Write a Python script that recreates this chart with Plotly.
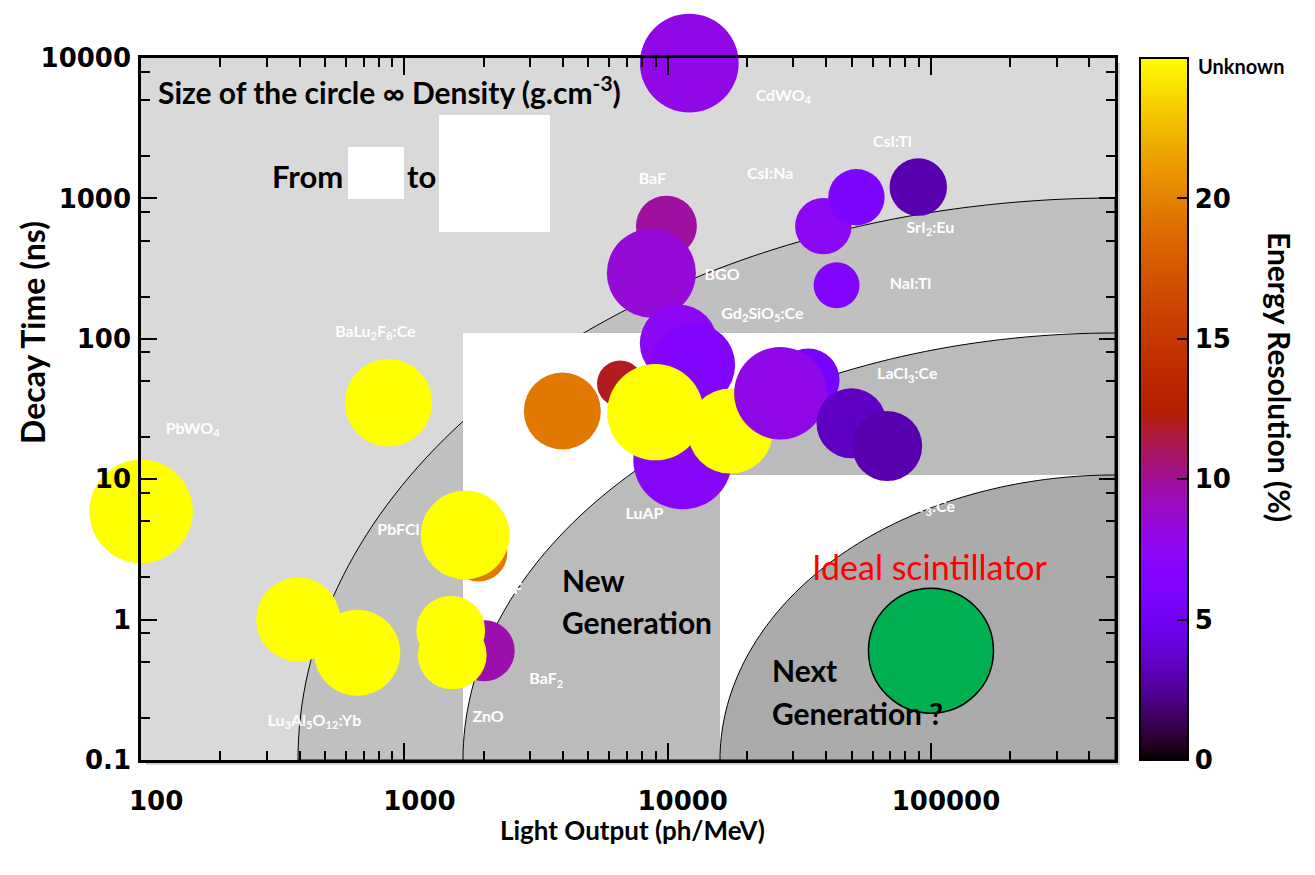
import math
import plotly.graph_objects as go

# ---------------- data ----------------
materials = ["PbWO4", "BaLu2F8:Ce", "CsF", "PbFCl", "Lu3Al5O12:Yb", "Lu2SiO5:Yb",
             "BaF2 (fast)", "ZnO", "ZnO:Ga", "CdWO4", "BaF2 (slow)", "BGO",
             "CsI:Na", "CsI:Tl", "SrI2:Eu", "NaI:Tl", "Gd2SiO5:Ce", "LuAG:Ce",
             "Bi4Si3O12", "CeF3", "LuI3:Ce", "LuAP", "LuBO3:Ce", "YAP:Ce", "LYSO:Ce",
             "LaBr3:Ce", "CeBr3"]
light_output = [100, 870, 1910, 1700, 395, 662,
                2010, 1500, 1520, 12080, 9890, 8670,
                39000, 52100, 89500, 43800, 11000, 12500,
                6600, 3980, 34200, 11400, 8980, 17300, 26800,
                49900, 68200]                         # ph/MeV
decay_time = [5.9, 35, 3.0, 4.0, 1.0, 0.58,
              0.60, 0.84, 0.56, 9200, 635, 294,
              635, 1020, 1205, 241, 93, 65,
              48, 30.6, 51, 13.7, 30, 22, 41,
              25, 17.2]                               # ns
density = [8.28, 7.0, 4.64, 7.11, 6.73, 6.9,
           4.88, 5.5, 5.5, 7.9, 4.88, 7.13,
           4.51, 4.51, 4.6, 3.67, 6.2, 6.7,
           3.7, 6.16, 5.0, 7.9, 7.7, 6.8, 7.4,
           5.6, 5.6]                                  # g/cm3
energy_res = [None, None, 19.5, None, None, None,
              9.5, None, None, 8.0, 9.8, 8.5,
              7.5, 6.0, 3.0, 6.5, 7.5, 6.5,
              12.0, 19.5, 5.5, 7.0, None, None, 8.0,
              3.5, 3.0]                               # %, None = unknown

ideal_light = [100000]
ideal_decay = [0.6]
ideal_density = [10.0]

label_text = ["CdWO<sub>4</sub>", "BaF", "CsI:Na", "CsI:Tl", "SrI<sub>2</sub>:Eu",
              "NaI:Tl", "BGO", "Gd<sub>2</sub>SiO<sub>5</sub>:Ce", "LaCl<sub>3</sub>:Ce",
              "LaBr<sub>3</sub>:Ce", "LuAP", "PbWO<sub>4</sub>",
              "BaLu<sub>2</sub>F<sub>8</sub>:Ce", "PbFCl", "CsF", "BaF<sub>2</sub>", "ZnO",
              "Lu<sub>3</sub>Al<sub>5</sub>O<sub>12</sub>:Yb"]
label_x = [27500, 8750, 24500, 71300, 99500, 83600, 16100, 22900, 81300,
           94000, 8160, 157, 776, 949, 2500, 3460, 2080, 455]
label_y = [5270, 1352, 1470, 2480, 605, 241, 280, 148, 55,
           6.2, 5.56, 22.4, 110, 4.28, 1.63, 0.37, 0.20, 0.187]

x_tickvals = [100, 1000, 10000, 100000]
y_tickvals = [0.1, 1, 10, 100, 1000, 10000]
cbar_tickvals = [0, 5, 10, 15, 20]
RES_MAX = 25

# ---------------- styling helpers ----------------
def gnuplot(x):
    r = math.sqrt(x)
    g = x ** 3
    b = max(0.0, math.sin(2 * math.pi * x))
    return "rgb(%d,%d,%d)" % (round(255 * r), round(255 * g), round(255 * b))

colorscale = [[i / 50, gnuplot(i / 50)] for i in range(51)]

OFF = 8                      # page body margin
W, H = 1315 - 2 * OFF, 875 - 2 * OFF
L, R, T, B = 141, 1115, 58, 760   # plot area in page pixels
def px(x):
    return (x - L) / (R - L)
def py(y):
    return (B - y) / (B - T)

def quarter_ellipse(a, b, n=80):
    pts = []
    for i in range(n + 1):
        t = math.pi - (math.pi / 2) * i / n
        pts.append((1 + a * math.cos(t), b * math.sin(t)))
    d = "M %.5f,%.5f " % pts[0] + " ".join("L %.5f,%.5f" % p for p in pts[1:])
    return d + " L 1,0 Z"

shapes = []
def ell(a, b, color):
    shapes.append(dict(type="path", xref="paper", yref="paper",
                       path=quarter_ellipse(a, b), fillcolor=color,
                       line=dict(color="black", width=1), layer="below"))
def wrect(x0, y0, x1, y1, color="white"):
    shapes.append(dict(type="rect", xref="paper", yref="paper",
                       x0=x0, y0=y0, x1=x1, y1=y1, fillcolor=color,
                       line=dict(width=0), layer="below"))

# soft drop shadow of the frame
wrect(px(146), py(765), px(1120), py(761), "#d4d4d4")
wrect(px(1116), py(765), px(1120), py(63), "#d4d4d4")

ell(px(1115) - px(298), py(198), "#c0c0c0")
wrect(px(463), 0, 1, py(333))
ell(1 - px(463), py(333), "#bbbbbb")
wrect(px(720), 0, 1, py(475))
ell(1 - px(720), py(475), "#ababab")
# white boxes
wrect(px(348), py(199), px(404), py(147))
wrect(px(439), py(232), px(550), py(115))
# colorbar "Unknown" separator
shapes.append(dict(type="line", xref="paper", yref="paper",
                   x0=px(1140), x1=px(1188), y0=py(73), y1=py(73),
                   line=dict(color="black", width=3)))
# colorbar ticks on the left edge too
for v in cbar_tickvals[1:]:
    yy = v / RES_MAX
    shapes.append(dict(type="line", xref="paper", yref="paper",
                       x0=px(1140), x1=px(1152), y0=yy, y1=yy,
                       line=dict(color="black", width=1.5)))

fig = go.Figure()

# labels (drawn first so bubbles can cover them)
fig.add_trace(go.Scatter(
    x=label_x, y=label_y, mode="text", text=label_text,
    textfont=dict(family="Lato", size=16, color="white", weight="bold"),
    hoverinfo="skip", showlegend=False, cliponaxis=False))

colors = [v if v is not None else RES_MAX for v in energy_res]
fig.add_trace(go.Scatter(
    x=light_output, y=decay_time, mode="markers", text=materials,
    marker=dict(size=density, sizemode="diameter", sizeref=0.08,
                color=colors, colorscale=colorscale, cmin=0, cmax=RES_MAX,
                line=dict(width=0), opacity=1,
                colorbar=dict(x=px(1140), xanchor="left", xpad=0, ypad=0,
                              y=0.5, yanchor="middle", len=1, lenmode="fraction",
                              thickness=48, thicknessmode="pixels",
                              outlinewidth=2, outlinecolor="black",
                              tickvals=cbar_tickvals, ticks="inside", ticklen=12,
                              tickcolor="black", tickwidth=1.5,
                              tickfont=dict(family="DejaVu Sans", size=26,
                                            color="black", weight="bold"))),
    showlegend=False, cliponaxis=False))

fig.add_trace(go.Scatter(
    x=ideal_light, y=ideal_decay, mode="markers", text=["Ideal scintillator"],
    marker=dict(size=ideal_density, sizemode="diameter", sizeref=0.08,
                color="#00b050", opacity=1, line=dict(color="black", width=1.5)),
    showlegend=False, cliponaxis=False))

tickfont = dict(family="DejaVu Sans", size=26, color="black", weight="bold")
x_minor = [k * 10 ** e for e in range(2, 6) for k in range(2, 10) if k * 10 ** e <= 500000]
y_minor = [k * 10.0 ** e for e in range(-1, 4) for k in (2, 5, 8)]

fig.update_xaxes(type="log", range=[math.log10(99.9), math.log10(500000)],
                 showline=True, linecolor="black", linewidth=2.5, mirror="ticks",
                 ticks="inside", ticklen=17, tickwidth=1.5, tickcolor="black",
                 tickvals=x_tickvals, ticktext=[str(v) for v in x_tickvals],
                 tickfont=tickfont, ticklabelshift=15, ticklabelstandoff=16,
                 showgrid=False, zeroline=False,
                 minor=dict(tickmode="array", tickvals=x_minor, ticks="inside",
                            ticklen=9, tickwidth=1.5, tickcolor="black", showgrid=False))
fig.update_yaxes(type="log", range=[-1.0005, 4.0005],
                 showline=True, linecolor="black", linewidth=2.5, mirror="ticks",
                 ticks="inside", ticklen=16, tickwidth=1.5, tickcolor="black",
                 tickvals=y_tickvals, ticktext=["0.1", "1", "10", "100", "1000", "10000"],
                 tickfont=tickfont, ticklabelstandoff=2,
                 showgrid=False, zeroline=False,
                 minor=dict(tickmode="array", tickvals=y_minor, ticks="inside",
                            ticklen=9, tickwidth=1.5, tickcolor="black", showgrid=False))

def ann(text, x, y, size, xanchor="left", angle=0, color="black", weight="bold"):
    fig.add_annotation(text=text, x=x, y=y, xref="paper", yref="paper",
                       xanchor=xanchor, yanchor="middle", showarrow=False,
                       textangle=angle,
                       font=dict(family="Lato", size=size, color=color, weight=weight))

ann("Size of the circle \u221e Density (g.cm<sup>-3</sup>)", px(156), py(90), 30)
ann("From", px(270), py(176), 31)
ann("to", px(405), py(176), 31)
ann("New", px(560), py(580), 30)
ann("Generation", px(560), py(622), 30)
ann("Next", px(770), py(670), 30)
ann("Generation ?", px(770), py(713), 30)
ann("Ideal scintillator", px(930), py(566), 34, xanchor="center", color="#ff0000", weight="normal")
ann("Unknown", px(1196), py(66), 20)
ann("Energy Resolution (%)", px(1280), py(377), 30, xanchor="center", angle=90)
ann("Decay Time (ns)", px(32), py(333), 32, xanchor="center", angle=-90)
ann("Light Output (ph/MeV)", px(632), py(830), 26, xanchor="center")

fig.update_layout(width=W, height=H, autosize=False,
                  margin=dict(l=L - OFF, r=W - (R - OFF), t=T - OFF, b=H - (B - OFF), pad=0),
                  plot_bgcolor="#d9d9d9", paper_bgcolor="white",
                  shapes=shapes, showlegend=False)

fig.write_html("out.html")
